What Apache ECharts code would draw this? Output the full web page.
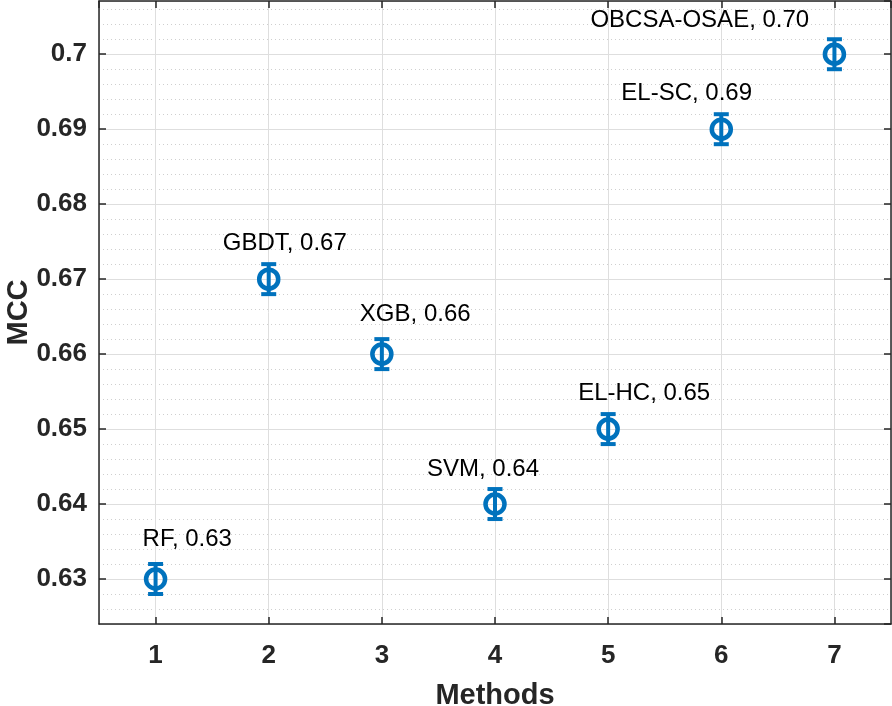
<!DOCTYPE html>
<html>
<head>
<meta charset="utf-8">
<script src="https://cdn.jsdelivr.net/npm/echarts@6/dist/echarts.min.js"></script>
<style>
html,body{margin:0;padding:0;background:#fff;}
#chart{width:892px;height:706px;}
</style>
</head>
<body>
<div id="chart"></div>
<script>
// ---- data ----
const methods = ['RF', 'GBDT', 'XGB', 'SVM', 'EL-HC', 'EL-SC', 'OBCSA-OSAE'];
const methodIndex = [1, 2, 3, 4, 5, 6, 7];
const mcc = [0.63, 0.67, 0.66, 0.64, 0.65, 0.69, 0.70];
const mccError = [0.002, 0.002, 0.002, 0.002, 0.002, 0.002, 0.002];
const xAxisName = 'Methods';
const yAxisName = 'MCC';

// ---- styles / layout ----
const blue = '#0072BD';
const axisColor = '#262626';
const labelOffsets = [[-13, -40], [-46, -36], [-22, -40], [-68, -35], [-30, -36], [-100, -36], [-244, -34]];
const FONT = 'Liberation Sans, Arial, Helvetica, sans-serif';

const yMin = 0.624, yMax = 0.7071;
const xMin = 0.5, xMax = 7.5;

const chart = echarts.init(document.getElementById('chart'), null, {renderer: 'canvas'});

const baseY = {
  type: 'value', min: yMin, max: yMax, splitNumber: 8, minInterval: 0.01, maxInterval: 0.01
};
const baseX = {
  type: 'value', min: xMin, max: xMax, splitNumber: 7, minInterval: 1, maxInterval: 1
};

chart.setOption({
  animation: false,
  backgroundColor: '#ffffff',
  grid: {left: 99, right: 1, top: 1, bottom: 82, containLabel: false, outerBoundsMode: 'none'},
  xAxis: [
    Object.assign({}, baseX, {
      position: 'bottom',
      name: xAxisName, nameLocation: 'middle', nameGap: 57,
      nameTextStyle: {fontSize: 29, fontWeight: 'bold', color: axisColor, fontFamily: FONT},
      axisLine: {show: true, onZero: false, lineStyle: {color: axisColor, width: 1.5}},
      axisTick: {show: true, inside: true, length: 7, lineStyle: {color: axisColor, width: 1.5}},
      axisLabel: {showMinLabel: false, showMaxLabel: false, fontSize: 26, fontWeight: 'bold', color: axisColor, margin: 19, fontFamily: FONT},
      splitLine: {show: true, lineStyle: {color: '#dedede', width: 1}}
    }),
    Object.assign({}, baseX, {
      position: 'top',
      axisLine: {show: true, onZero: false, lineStyle: {color: axisColor, width: 1.5}},
      axisTick: {show: true, inside: true, length: 7, lineStyle: {color: axisColor, width: 1.5}},
      axisLabel: {show: false},
      splitLine: {show: false}
    })
  ],
  yAxis: [
    Object.assign({}, baseY, {
      position: 'left',
      name: yAxisName, nameLocation: 'middle', nameGap: 66, nameMoveOverlap: false,
      nameTextStyle: {fontSize: 29, fontWeight: 'bold', color: axisColor, fontFamily: FONT},
      axisLine: {show: true, onZero: false, lineStyle: {color: axisColor, width: 1.5}},
      axisTick: {show: true, inside: true, length: 7, lineStyle: {color: axisColor, width: 1.5}},
      axisLabel: {showMinLabel: false, showMaxLabel: false, fontSize: 26, fontWeight: 'bold', color: axisColor, margin: 12, fontFamily: FONT},
      splitLine: {show: true, lineStyle: {color: '#dedede', width: 1}},
      minorTick: {show: false, splitNumber: 5},
      minorSplitLine: {show: true, lineStyle: {color: '#cfcfcf', width: 1, type: [1, 3]}}
    }),
    Object.assign({}, baseY, {
      position: 'right',
      axisLine: {show: true, onZero: false, lineStyle: {color: axisColor, width: 1.5}},
      axisTick: {show: true, inside: true, length: 7, lineStyle: {color: axisColor, width: 1.5}},
      axisLabel: {show: false},
      splitLine: {show: false}
    })
  ],
  series: [
    {
      type: 'custom',
      xAxisIndex: 0, yAxisIndex: 0,
      z: 3,
      silent: true,
      data: methodIndex.map((x, i) => [x, mcc[i], mccError[i]]),
      renderItem: function (params, api) {
        const x = api.value(0), y = api.value(1), e = api.value(2);
        const top = api.coord([x, y + e]);
        const bot = api.coord([x, y - e]);
        const hw = 7.5;
        const style = {stroke: blue, lineWidth: 4, fill: null};
        return {
          type: 'group',
          children: [
            {type: 'line', shape: {x1: top[0], y1: top[1], x2: bot[0], y2: bot[1]}, style: style},
            {type: 'line', shape: {x1: top[0] - hw, y1: top[1], x2: top[0] + hw, y2: top[1]}, style: style},
            {type: 'line', shape: {x1: bot[0] - hw, y1: bot[1], x2: bot[0] + hw, y2: bot[1]}, style: style}
          ]
        };
      }
    },
    {
      type: 'scatter',
      xAxisIndex: 0, yAxisIndex: 0,
      z: 4,
      symbol: 'circle',
      symbolSize: 19,
      itemStyle: {color: 'rgba(255,255,255,0)', borderColor: blue, borderWidth: 4.5, opacity: 1},
      label: {
        show: true,
        position: 'inside',
        align: 'left',
        verticalAlign: 'middle',
        fontSize: 24,
        fontFamily: FONT,
        color: '#000000',
        formatter: p => p.name + ', ' + p.value[1].toFixed(2)
      },
      emphasis: {disabled: true},
      data: methodIndex.map((x, i) => ({
        name: methods[i],
        value: [x, mcc[i]],
        label: {offset: labelOffsets[i]}
      }))
    }
  ]
});
</script>
</body>
</html>
